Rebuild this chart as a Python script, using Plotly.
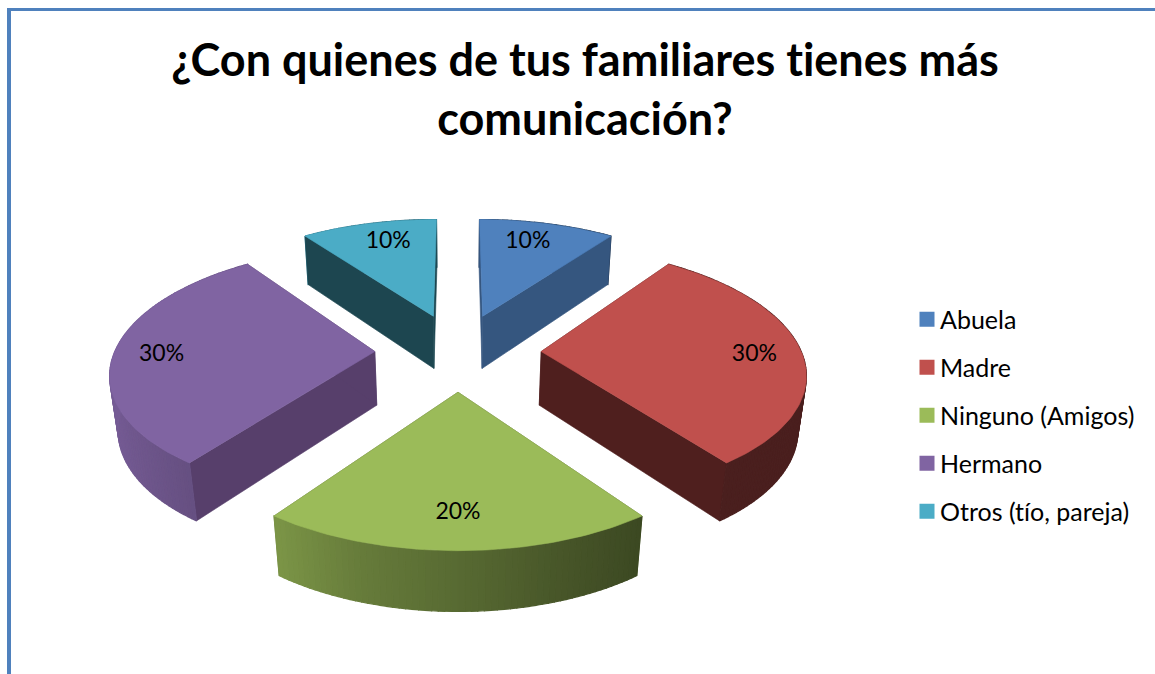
import math
import plotly.graph_objects as go

# Data
categories = ["Abuela", "Madre", "Ninguno (Amigos)", "Hermano", "Otros (tío, pareja)"]
values = [10, 30, 20, 30, 10]
labels = ["10%", "30%", "20%", "30%", "10%"]
top_colors = ["#4f81bd", "#c0504d", "#9bbb59", "#8064a2", "#4bacc6"]
wall_colors = ["#35567f", "#4f1f1e", "#5a6c33", "#573f6b", "#1d4650"]
label_radius = [0.82, 0.82, 0.77, 0.82, 0.82]
title_text = "¿Con quienes de tus familiares tienes más<br>comunicación?"

# Projection of the exploded, tilted pie (page units)
X0, Y0, A, B, K = 458.0, 351.5, 260.0, 121.0, 0.15
EXPLODE, DEPTH, DEPTH_K = 0.32, 55.0, 0.024


def project(wx, wy, low=False):
    s = 1.0 / (1.0 + K * wy + (DEPTH_K if low else 0.0))
    return X0 + A * wx * s, Y0 - B * wy * s + (DEPTH * s if low else 0.0)


def shade(hex_color, f):
    r, g, b = (int(hex_color[i:i + 2], 16) for i in (1, 3, 5))
    return f"rgb({int(r * f)},{int(g * f)},{int(b * f)})"


def rim_factor(theta):
    pts = [(-1.0, 0.93), (-0.588, 0.80), (-0.3, 0.66), (0.0, 0.57), (0.3, 0.47), (0.588, 0.39), (1.0, 0.39)]
    v = math.sin(theta)
    for (a, fa), (b, fb) in zip(pts, pts[1:]):
        if v <= b:
            return fa + (fb - fa) * (v - a) / (b - a)
    return 0.39


def add_poly(fig, pts, color, lw=0.6):
    fig.add_trace(go.Scatter(
        x=[p[0] for p in pts] + [pts[0][0]], y=[p[1] for p in pts] + [pts[0][1]],
        mode="lines", fill="toself", fillcolor=color,
        line=dict(color=color, width=lw), showlegend=False, hoverinfo="skip"))


fig = go.Figure()
total = sum(values)
start = 0.0
label_x, label_y = [], []
for name, val, col, wall, lr in zip(categories, values, top_colors, wall_colors, label_radius):
    t0 = start
    t1 = start + 2 * math.pi * val / total
    mid = (t0 + t1) / 2
    start = t1
    ox, oy = EXPLODE * math.sin(mid), EXPLODE * math.cos(mid)
    n = val * 3
    thetas = [t0 + (t1 - t0) * i / n for i in range(n + 1)]
    world = [(ox + math.sin(t), oy + math.cos(t)) for t in thetas]

    def draw_rim():
        for i in range(n):
            tm = (thetas[i] + thetas[i + 1]) / 2
            add_poly(fig, [project(*world[i]), project(*world[i + 1]),
                           project(*world[i + 1], low=True), project(*world[i], low=True)],
                     shade(col, rim_factor(tm)), lw=1.2)

    def draw_walls():
        for w in (world[0], world[-1]):
            add_poly(fig, [project(ox, oy), project(*w), project(*w, low=True), project(ox, oy, low=True)], wall)

    # Far slices hide their rim behind the walls; near slices show the rim in front.
    if math.cos(mid) > 0.5:
        draw_rim()
        draw_walls()
    else:
        draw_walls()
        draw_rim()
    # top face
    add_poly(fig, [project(ox, oy)] + [project(*w) for w in world], col)
    lx, ly = project(ox + lr * math.sin(mid), oy + lr * math.cos(mid))
    label_x.append(X0 + (lx - X0) * (1 - 0.12 * max(0.0, math.cos(mid))))
    label_y.append(ly + 4)

fig.add_trace(go.Scatter(x=label_x, y=label_y, mode="text", text=labels,
                         textfont=dict(family="Lato", size=23, color="#000000"),
                         showlegend=False, hoverinfo="skip"))

for name, col in zip(categories, top_colors):
    fig.add_trace(go.Scatter(x=[None], y=[None], mode="markers", name=name, legendgroup=name,
                             marker=dict(symbol="square", size=15, color=col)))

frame = "#4f81bd"
fig.update_layout(
    width=1155, height=674, margin=dict(l=0, r=0, t=0, b=0),
    paper_bgcolor="#ffffff", plot_bgcolor="#ffffff",
    xaxis=dict(range=[0, 1155], visible=False, fixedrange=True),
    yaxis=dict(range=[674, 0], visible=False, fixedrange=True),
    title=dict(text=title_text, x=585 / 1155, xanchor="center", y=0.887, yanchor="top",
               font=dict(family="Lato", size=45, color="#000000", weight="bold")),
    legend=dict(x=907 / 1155, y=1 - 296.5 / 674, xanchor="left", yanchor="top",
                tracegroupgap=12.5, font=dict(family="Lato", size=25, color="#000000"),
                bgcolor="rgba(0,0,0,0)"),
    shapes=[
        dict(type="line", xref="x", yref="y", x0=9, x1=9, y0=8, y1=674, line=dict(color=frame, width=4)),
        dict(type="line", xref="x", yref="y", x0=7, x1=1155, y0=9.5, y1=9.5, line=dict(color=frame, width=3)),
    ],
)
post = """
document.body.style.margin='0';document.body.style.overflow='hidden';
var st=document.createElement('style');st.textContent='text{font-variant-ligatures:none !important;}';document.head.appendChild(st);
document.querySelectorAll('.legendtext').forEach(function(t){t.setAttribute('x',33);});
"""
fig.write_html("out.html", post_script=post, config={"displayModeBar": False})
